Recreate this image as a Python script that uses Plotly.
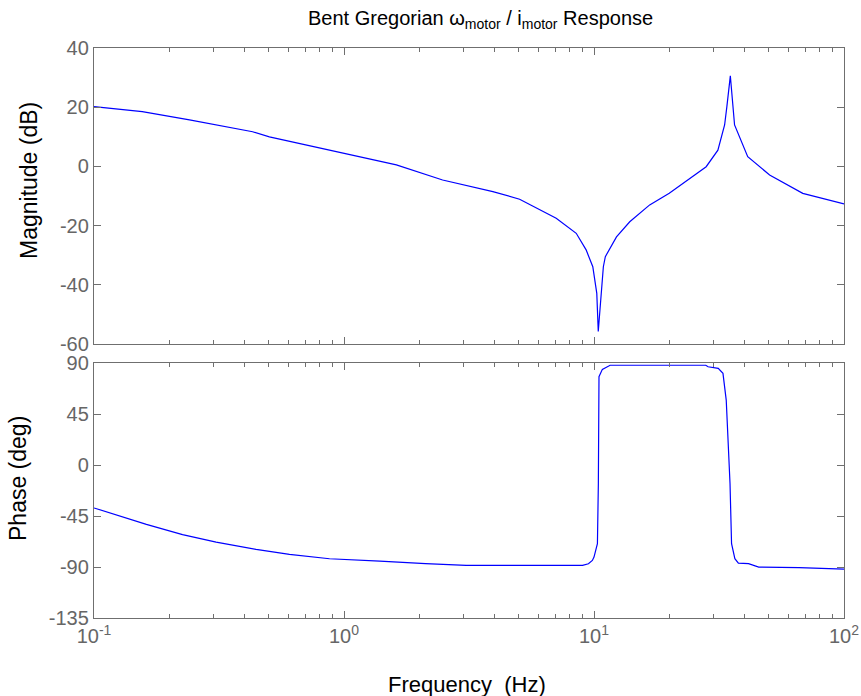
import plotly.graph_objects as go

# ---------------- data ----------------
mag_freq_hz = [0.1, 0.156, 0.241, 0.431, 0.503, 0.708, 0.986, 1.265, 1.62, 2.48,
               3.94, 5.04, 7.06, 8.49, 9.3, 9.89, 10.26, 10.4, 10.7, 10.9,
               11.1, 12.3, 13.9, 16.7, 20.0, 24.1, 28.1, 31.3, 33.3, 34.0,
               35.1, 36.5, 41.2, 50.4, 68.4, 100.0]
mag_db = [20.2, 18.5, 15.7, 11.7, 10.0, 7.2, 4.4, 2.5, 0.5, -4.6,
          -8.5, -11.1, -17.5, -22.6, -28.2, -33.9, -42.9, -55.8, -42.9, -33.9,
          -30.5, -23.8, -18.7, -13.0, -9.1, -4.0, -0.1, 5.5, 14.0, 20.2,
          30.6, 14.0, 3.3, -2.9, -9.1, -12.7]

phase_freq_hz = [0.1, 0.162, 0.226, 0.308, 0.445, 0.605, 0.875, 1.265, 1.39, 2.12,
                 3.08, 9.0, 9.5, 9.85, 10.0, 10.32, 10.41, 10.47, 10.8, 11.6,
                 28.0, 28.6, 31.4, 32.8, 33.8, 35.0, 35.5, 36.6, 37.8, 41.5,
                 45.6, 66.1, 89.6, 100.0]
phase_deg = [-37.9, -52.4, -61.5, -68.0, -74.5, -78.9, -82.7, -84.2, -84.8, -87.1,
             -88.6, -88.6, -87.1, -84.2, -81.3, -69.4, -16.4, 77.9, 84.4, 88.0,
             88.0, 86.7, 85.3, 80.9, 57.3, -16.4, -69.4, -82.7, -86.6, -87.1,
             -90.1, -90.6, -91.9, -91.9]

x_tick_vals = [0.1, 1, 10, 100]
x_tick_text = ["10<sup>-1</sup>", "10<sup>0</sup>", "10<sup>1</sup>", "10<sup>2</sup>"]
x_minor_vals = [m * d for d in (0.1, 1, 10) for m in range(2, 10)]
mag_ticks = [-60, -40, -20, 0, 20, 40]
mag_tick_text = ["-60", "-40", "-20", "0", "20", "40"]
phase_ticks = [-135, -90, -45, 0, 45, 90]
phase_tick_text = ["-135", "-90", "-45", "0", "45", "90"]

title_text = "Bent Gregorian ω<sub>motor</sub> / i<sub>motor</sub> Response"
xlabel = "Frequency\u00a0 (Hz)"
ylabel_mag = "Magnitude (dB)"
ylabel_phase = "Phase (deg)"

# ---------------- figure ----------------
W, H = 861, 696
ML, MR, MT, MB = 94, 17, 48, 78
PW, PH = W - ML - MR, H - MT - MB

def px_x(px):
    return (px - ML) / PW

def px_y(py):
    return (H - MB - py) / PH

FONT = "Liberation Sans, Arial, Helvetica, sans-serif"
AX_COL = "#6f6f6f"
TICK_FONT = dict(family=FONT, size=20, color="#666666")

fig = go.Figure()
fig.add_trace(go.Scatter(x=mag_freq_hz, y=mag_db, mode="lines",
                         line=dict(color="#0000ff", width=1.2),
                         xaxis="x", yaxis="y", showlegend=False))
fig.add_trace(go.Scatter(x=phase_freq_hz, y=phase_deg, mode="lines",
                         line=dict(color="#0000ff", width=1.2),
                         xaxis="x2", yaxis="y2", showlegend=False))

common_x = dict(type="log", range=[-1, 2], tickmode="array", tickvals=x_tick_vals,
                ticks="inside", ticklen=7, tickcolor=AX_COL, showline=True,
                linecolor=AX_COL, linewidth=1.3, mirror="ticks", showgrid=False,
                zeroline=False, tickfont=TICK_FONT, automargin=False,
                minor=dict(tickmode="array", tickvals=x_minor_vals, ticks="inside",
                           ticklen=4, tickcolor=AX_COL, showgrid=False))
common_y = dict(ticks="inside", ticklen=7, tickcolor=AX_COL, showline=True,
                linecolor=AX_COL, linewidth=1.3, mirror="ticks", showgrid=False,
                zeroline=False, tickfont=TICK_FONT, tickmode="array",
                automargin=False)

fig.update_layout(
    width=W, height=H, autosize=False,
    margin=dict(l=ML, r=MR, t=MT, b=MB, autoexpand=False),
    paper_bgcolor="white", plot_bgcolor="white",
    font=dict(family=FONT),
    xaxis=dict(common_x, anchor="y", domain=[0, 1], showticklabels=False),
    xaxis2=dict(common_x, anchor="y2", domain=[0, 1], ticktext=x_tick_text,
                matches="x"),
    yaxis=dict(common_y, anchor="x", domain=[px_y(344), 1], range=[-60, 40],
               tickvals=mag_ticks, ticktext=mag_tick_text),
    yaxis2=dict(common_y, anchor="x2", domain=[0, px_y(363)], range=[-135, 90],
                tickvals=phase_ticks, ticktext=phase_tick_text),
    annotations=[
        dict(text=title_text, x=px_x(480), y=px_y(19), xref="paper", yref="paper",
             showarrow=False, xanchor="center", yanchor="middle",
             font=dict(family=FONT, size=20, color="#000000")),
        dict(text=xlabel, x=px_x(467), y=px_y(684), xref="paper", yref="paper",
             showarrow=False, xanchor="center", yanchor="middle",
             font=dict(family=FONT, size=22, color="#000000")),
        dict(text=ylabel_mag, x=px_x(29), y=px_y(181), xref="paper", yref="paper",
             showarrow=False, xanchor="center", yanchor="middle", textangle=-90,
             font=dict(family=FONT, size=23, color="#000000")),
        dict(text=ylabel_phase, x=px_x(18), y=px_y(479), xref="paper", yref="paper",
             showarrow=False, xanchor="center", yanchor="middle", textangle=-90,
             font=dict(family=FONT, size=23, color="#000000")),
    ],
)

fig.write_html("out.html",
               config=dict(displayModeBar=False, responsive=False),
               post_script="document.body.style.margin='0';document.body.style.overflow='hidden';")
